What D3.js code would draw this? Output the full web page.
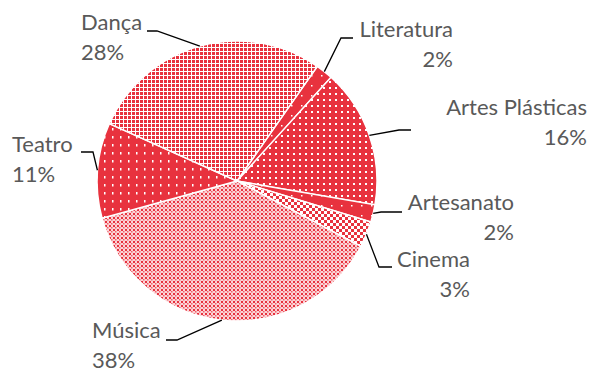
<!DOCTYPE html>
<meta charset="utf-8">
<head>
<style>
  body { margin: 0; background: #fff; }
  svg text { font-family: Lato, 'Noto Sans', sans-serif; font-size: 22px; fill: #595959; }
</style>
</head>
<body>
<div class="chart"></div>
<script src="https://d3js.org/d3.v7.min.js" charset="utf-8"></script>
<script>
// clockwise from the slice just right of 12 o'clock
const categories = ['Literatura', 'Artes Plásticas', 'Artesanato', 'Cinema', 'Música', 'Teatro', 'Dança'];
const shares = [2, 16, 2, 3, 38, 11, 28];
const shareLabels = ['2%', '16%', '2%', '3%', '38%', '11%', '28%'];

const width = 589;
const height = 372;
const cx = 237, cy = 181, radius = 140;
const red = '#E8323E';

// fill pattern per slice (same order as categories)
const sliceFills = ['sparse', 'dots', 'sparse', 'check', 'light', 'tdots', 'lattice'];

// label placement: text anchor, x, first baseline, elbow x, end x, leader y
const labelLayout = [
  { anchor: 'end',   x: 453, y: 37,  elbow: 341, end: 353, ly: 38 },
  { anchor: 'end',   x: 587, y: 115, elbow: 399, end: 411, ly: 130 },
  { anchor: 'end',   x: 514, y: 210, elbow: 381, end: 402, ly: 212 },
  { anchor: 'end',   x: 470, y: 267, elbow: 379, end: 392, ly: 267 },
  { anchor: 'start', x: 92,  y: 338, elbow: 177, end: 166, ly: 340 },
  { anchor: 'start', x: 12,  y: 152, elbow: 93,  end: 81,  ly: 152 },
  { anchor: 'start', x: 81,  y: 30,  elbow: 157, end: 147, ly: 31 }
];
const lineGap = 29.5;

const svg = d3.select('.chart')
  .append('svg')
  .attr('width', width)
  .attr('height', height);

const defs = svg.append('defs');

function addPattern(id, size, bg, rects) {
  const p = defs.append('pattern')
    .attr('id', id)
    .attr('patternUnits', 'userSpaceOnUse')
    .attr('width', size)
    .attr('height', size);
  p.append('rect').attr('width', size).attr('height', size).attr('fill', bg);
  rects.forEach(r => {
    p.append('rect')
      .attr('x', r[0]).attr('y', r[1])
      .attr('width', r[2]).attr('height', r[3])
      .attr('fill', r[4]);
  });
}

addPattern('sparse', 10, red, [[4, 4, 1.5, 1.5, '#fff']]);
addPattern('dots', 6, red, [[2, 2, 2, 2, '#fff']]);
addPattern('tdots', 8, red, [[3, 3, 1.5, 2.5, '#fff']]);
addPattern('check', 6, '#fff', [[0, 0, 3, 3, red], [3, 3, 3, 3, red]]);
addPattern('light', 4, '#FBD3D6', [[0, 0, 2, 2, red], [2, 2, 1.5, 1.5, '#EE5F69']]);
addPattern('lattice', 4, red, [[2, 0, 1, 4, '#fff'], [0, 2, 4, 1, '#fff']]);

const start = 35 * Math.PI / 180;
const pie = d3.pie()
  .sort(null)
  .startAngle(start)
  .endAngle(start + 2 * Math.PI);

const arc = d3.arc().innerRadius(0).outerRadius(radius);

const arcs = pie(shares);

const g = svg.append('g')
  .attr('transform', `translate(${cx}, ${cy})`);

g.selectAll('.slice').data(arcs)
  .enter()
  .append('path')
  .attr('class', 'slice')
  .attr('d', arc)
  .attr('fill', (d, i) => `url(#${sliceFills[i]})`)
  .attr('stroke', '#fff')
  .attr('stroke-width', 1.5);

// leader lines from the slice edge at mid-angle
svg.selectAll('.leader').data(arcs)
  .enter()
  .append('polyline')
  .attr('class', 'leader')
  .attr('fill', 'none')
  .attr('stroke', '#000')
  .attr('stroke-width', 1.3)
  .attr('points', (d, i) => {
    const a = (d.startAngle + d.endAngle) / 2;
    const px = cx + radius * Math.sin(a);
    const py = cy - radius * Math.cos(a);
    const l = labelLayout[i];
    return `${px},${py} ${l.elbow},${l.ly} ${l.end},${l.ly}`;
  });

const labels = svg.selectAll('.label').data(categories)
  .enter()
  .append('text')
  .attr('class', 'label')
  .attr('text-anchor', (d, i) => labelLayout[i].anchor);

labels.append('tspan')
  .attr('x', (d, i) => labelLayout[i].x)
  .attr('y', (d, i) => labelLayout[i].y)
  .text(d => d);

labels.append('tspan')
  .attr('x', (d, i) => labelLayout[i].x)
  .attr('y', (d, i) => labelLayout[i].y + lineGap)
  .text((d, i) => shareLabels[i]);
</script>
</body>
